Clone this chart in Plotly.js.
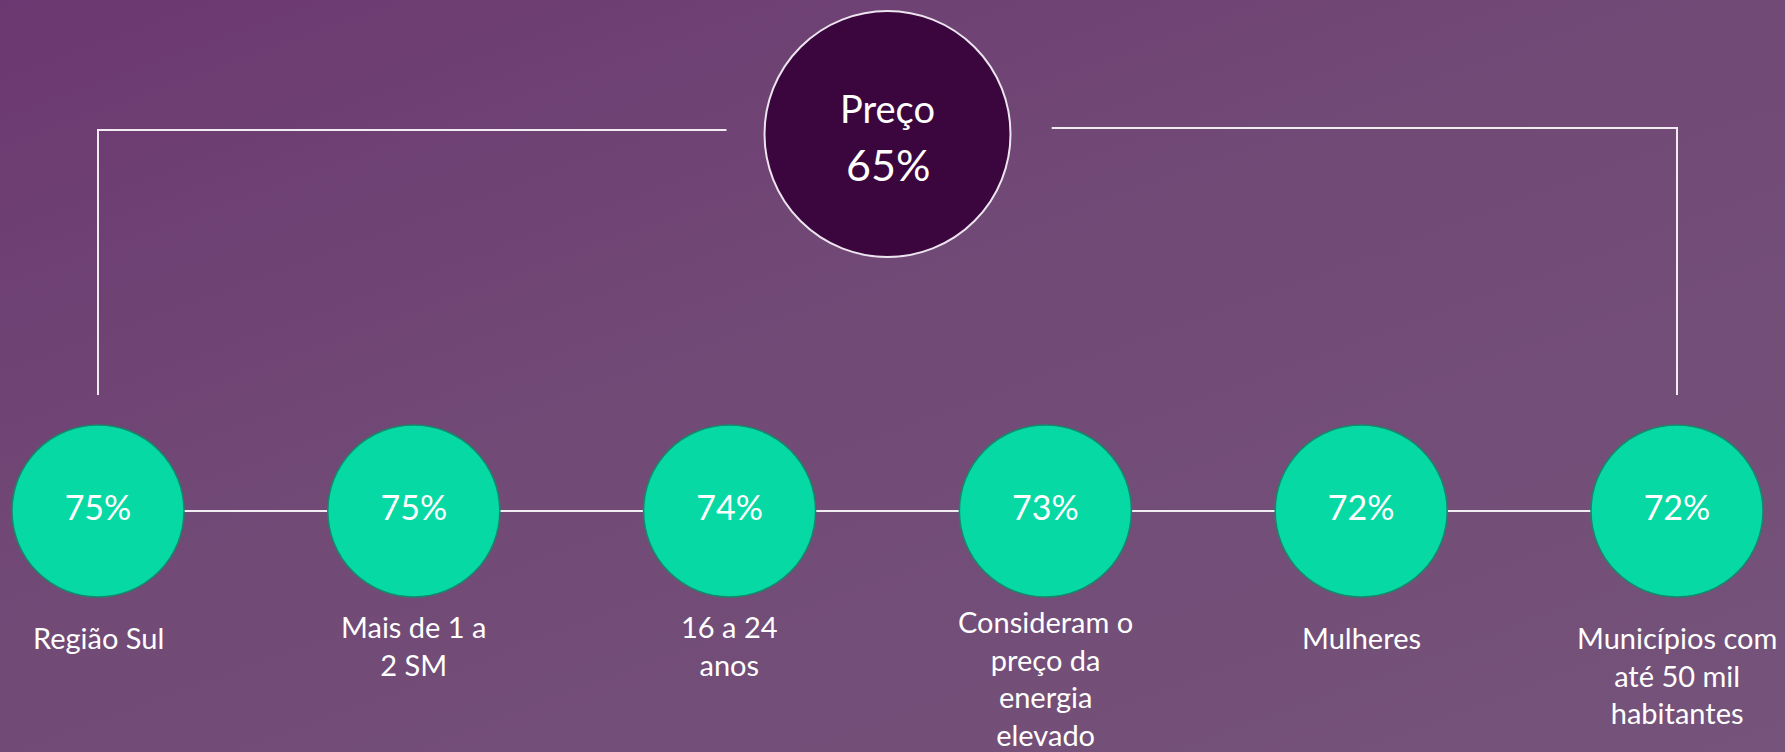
<!DOCTYPE html>
<html>
<head>
<meta charset="utf-8">
<script src="https://cdn.plot.ly/plotly-3.0.1.min.js"></script>
<style>
  html, body { margin: 0; padding: 0; }
  body {
    width: 1785px; height: 752px; overflow: hidden;
    background: linear-gradient(160deg, #6c3871 0%, #714a76 45%, #75537a 100%);
  }
  #chart { width: 1785px; height: 752px; }
</style>
</head>
<body>
<div id="chart"></div>
<script>
// ---- data ----
const topLabel = "Preço";
const topValue = 65;
const categories = [
  "Região Sul",
  "Mais de 1 a<br>2 SM",
  "16 a 24<br>anos",
  "Consideram o<br>preço da<br>energia<br>elevado",
  "Mulheres",
  "Municípios com<br>até 50 mil<br>habitantes"
];
const values = [75, 75, 74, 73, 72, 72];

// ---- layout constants (pixels in a 1785x752 frame) ----
const W = 1785, H = 752;
const ROW_Y = 511;          // centre row of the green circles
const TOP_Y = 134;          // centre of the top circle
const BRACKET_Y = 129;
const BRACKET_BOTTOM = 395;
const labelTop = [618, 607, 607, 602, 618, 618];
const font = "Lato, 'Open Sans', sans-serif";
const idx = categories.map((_, i) => i);
const mid = (categories.length - 1) / 2;

const traces = [
  // connector line through the row
  {
    x: idx, y: idx.map(() => ROW_Y), mode: "lines",
    line: { color: "#f1ecf2", width: 2 }, hoverinfo: "skip", showlegend: false
  },
  // bracket left
  {
    x: [0, 0, mid - 0.51], y: [BRACKET_BOTTOM, BRACKET_Y + 1, BRACKET_Y + 1], mode: "lines",
    line: { color: "#f1ecf2", width: 2 }, hoverinfo: "skip", showlegend: false
  },
  // bracket right
  {
    x: [mid + 0.52, idx.length - 1, idx.length - 1], y: [BRACKET_Y - 1, BRACKET_Y - 1, BRACKET_BOTTOM], mode: "lines",
    line: { color: "#f1ecf2", width: 2 }, hoverinfo: "skip", showlegend: false
  },
  // green circles with values
  {
    x: idx, y: idx.map(() => ROW_Y), mode: "markers+text",
    marker: { size: 172, color: "#06d9a4", line: { color: "#138a6c", width: 1.5 } },
    text: values.map(v => v + "%"), textposition: "middle center",
    textfont: { family: font, size: 34, color: "#ffffff" },
    hoverinfo: "skip", showlegend: false, cliponaxis: false
  },
  // top circle
  {
    x: [mid], y: [TOP_Y], mode: "markers",
    marker: { size: 246, color: "#3b063e", line: { color: "#ece4ee", width: 2 } },
    hoverinfo: "skip", showlegend: false, cliponaxis: false
  }
];

const annotations = [
  { x: mid, y: 108, text: topLabel, showarrow: false, xanchor: "center", yanchor: "middle",
    font: { family: font, size: 38, color: "#ffffff" } },
  { x: mid, y: 164, text: topValue + "%", showarrow: false, xanchor: "center", yanchor: "middle",
    font: { family: font, size: 43, color: "#ffffff" } }
];
categories.forEach((c, i) => {
  annotations.push({
    x: i, y: labelTop[i], text: c, showarrow: false, xanchor: "center", yanchor: "top",
    align: "center", font: { family: font, size: 29, color: "#ffffff" }
  });
});

const spacing = 315.8, x0px = 98;
const layout = {
  width: W, height: H,
  margin: { l: 0, r: 0, t: 0, b: 0, pad: 0 },
  paper_bgcolor: "rgba(0,0,0,0)", plot_bgcolor: "rgba(0,0,0,0)",
  xaxis: { range: [-x0px / spacing, (W - x0px) / spacing], visible: false, fixedrange: true },
  yaxis: { range: [H, 0], visible: false, fixedrange: true },
  annotations: annotations,
  showlegend: false
};

Plotly.newPlot("chart", traces, layout, { displayModeBar: false, staticPlot: true });
</script>
</body>
</html>
